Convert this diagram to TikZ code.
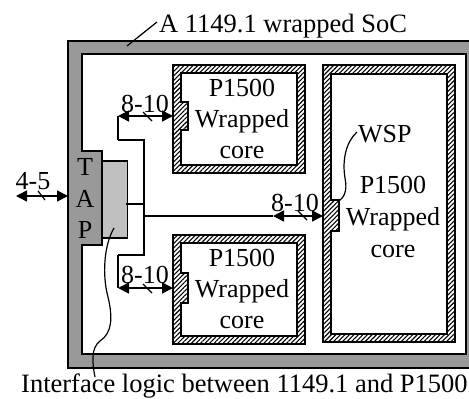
\documentclass[tikz,border=0pt]{standalone}
\usepackage{fontspec}
\setmainfont{Liberation Serif}
\usetikzlibrary{arrows.meta,patterns.meta}
\definecolor{bandgray}{RGB}{153,153,153}
\definecolor{ifgray}{RGB}{192,192,192}
\tikzset{
  band/.style={fill=bandgray,draw=black,line width=1.6pt},
  inner/.style={fill=white,draw=black,line width=1.6pt},
  hatchbox/.style={pattern={Lines[angle=45,distance=3.2pt,line width=1.1pt]},draw=black,line width=1.6pt,even odd rule},
  conn/.style={line width=1.6pt},
  bus/.style={conn,{Triangle[length=11pt,width=11pt]}-{Triangle[length=11pt,width=11pt]}},
  slash/.style={line width=1.2pt},
  txt/.style={font=\fontsize{26}{26}\selectfont,inner sep=0pt,anchor=base},
  big/.style={font=\fontsize{26.5}{26.5}\selectfont,inner sep=0pt,anchor=base west},
  lead/.style={line width=1.2pt},
}
\begin{document}
\begin{tikzpicture}[x=1pt,y=-1pt]
\useasboundingbox (0,0) rectangle (469,399);
\clip (0,0) rectangle (469,399);
% SoC frame with TAP
\path[band] (68,41) rectangle (480,368);
\path[inner] (82,54) -- (466,54) -- (466,354) -- (82,354) -- (82,245) -- (102,245) -- (102,151) -- (82,151) -- cycle;
% wrapped cores
\path[hatchbox] (173,65) rectangle (305,173)
  (181,73) -- (297,73) -- (297,165) -- (181,165) -- (181,130) -- (188,130) -- (188,102) -- (181,102) -- cycle;
\path[hatchbox] (173,235) rectangle (305,344)
  (181,243) -- (297,243) -- (297,336) -- (181,336) -- (181,303) -- (188,303) -- (188,273) -- (181,273) -- cycle;
\path[hatchbox] (323,65) rectangle (455,342)
  (331,74) -- (447,74) -- (447,334) -- (331,334) -- (331,231) -- (339,231) -- (339,200) -- (331,200) -- cycle;
% named attachment points
\coordinate (tlw) at (173,116);
\coordinate (blw) at (173,288);
\coordinate (rcw) at (323,216);
\coordinate (tapw) at (68,196);
\coordinate (ext) at (16,196);
% interface logic
\node[draw=black,fill=ifgray,line width=1.6pt,minimum width=25pt,minimum height=77pt,inner sep=0pt] (iface) at (115,199.5) {};
% TAP letters
\node[txt] (tapT) at (85,175) {T};
\node[txt] (tapA) at (85,207) {A};
\node[txt] (tapP) at (85,238) {P};
% wiring
\coordinate (j1) at (144,204);
\coordinate (jtop) at (144,140);
\coordinate (jbot) at (144,255);
\coordinate (jmid) at (144,216);
\coordinate (ta) at (118,116);
\coordinate (tb) at (118,140);
\coordinate (ba) at (118,288);
\coordinate (bb) at (118,255);
\coordinate (ma) at (273,216);
\draw[conn] (126,204) -- (j1);
\draw[conn] (tb) -- (jtop) -- (jbot) -- (bb);
\draw[conn] (ta) -- (tb);
\draw[conn] (ba) -- (bb);
\draw[bus] (ta) -- (tlw);
\draw[bus] (ba) -- (blw);
\draw[conn] (jmid) -- (ma);
\draw[bus] (ma) -- (rcw);
\draw[bus] (ext) -- (tapw);
% bus width slashes
\draw[slash] (143,112) -- (152,121);
\draw[slash] (143,284) -- (152,293);
\draw[slash] (298,211) -- (307,220);
\draw[slash] (38,191) -- (45,200);
% bus labels
\node[txt] (l1) at (145,112) {8-10};
\node[txt] (l2) at (145,283) {8-10};
\node[txt] (l3) at (295,211) {8-10};
\node[txt] (l4) at (33,189) {4-5};
% core texts
\node[txt] (a1) at (242,96) {P1500};
\node[txt] (a2) at (242,127) {Wrapped};
\node[txt] (a3) at (242,158) {core};
\node[txt] (b1) at (242,266) {P1500};
\node[txt] (b2) at (242,297) {Wrapped};
\node[txt] (b3) at (242,328) {core};
\node[txt] (c1) at (393,193) {P1500};
\node[txt] (c2) at (393,225) {Wrapped};
\node[txt] (c3) at (393,257) {core};
\node[txt,anchor=base west] (wsp) at (358,142) {WSP};
% title and caption
\node[big] (title) at (159,32) {A 1149.1 wrapped SoC};
\node[big] (cap) at (21,392) {Interface logic between 1149.1 and P1500};
% leaders
\draw[lead] (127,46) -- (157,22);
\draw[lead] (357,132) .. controls (346,142) and (342,160) .. (345,178) .. controls (348,192) and (343,198) .. (339,201);
\draw[lead] (114,228) .. controls (104,245) and (102,275) .. (108,297) .. controls (113,318) and (112,333) .. (100,341) .. controls (91,348) and (92,362) .. (95,377);
\end{tikzpicture}
\end{document}
